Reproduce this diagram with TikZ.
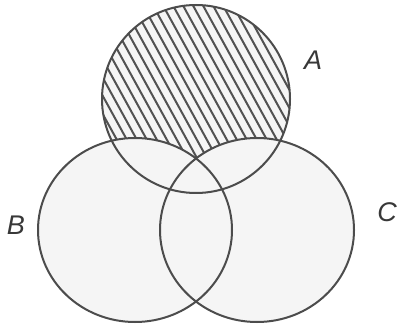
\documentclass[tikz,border=0pt]{standalone}
\usepackage{fontspec}
\setsansfont{Liberation Sans}
\begin{document}
\begin{tikzpicture}[x=1pt,y=-1pt,line width=2pt,
  setfill/.style={fill=black!4},
  setline/.style={draw=black!70},
  hatch/.style={draw=black!68,line width=2pt},
  lbl/.style={font=\sffamily\itshape\fontsize{27}{30}\selectfont,text=black!78}]
\useasboundingbox (0,0) rectangle (403,328);
\fill[white] (0,0) rectangle (403,328);
% sets A, B, C
\fill[setfill] (196,99) circle (94);
\begin{scope}\clip (196,99) circle (94);
\foreach \x in {0,10,...,330}\draw[hatch] (\x-30,0)--(\x+80,200);
\end{scope}
\fill[setfill] (135,230) ellipse (97 and 92);\fill[setfill] (257,230) ellipse (97 and 92);
\draw[setline] (196,99) circle (94);\draw[setline] (135,230) ellipse (97 and 92);\draw[setline] (257,230) ellipse (97 and 92);
\node[lbl] (labA) at (313,60){A};
\node[lbl] (labB) at (16,225){B};
\node[lbl] (labC) at (387,212){C};
\end{tikzpicture}
\end{document}
